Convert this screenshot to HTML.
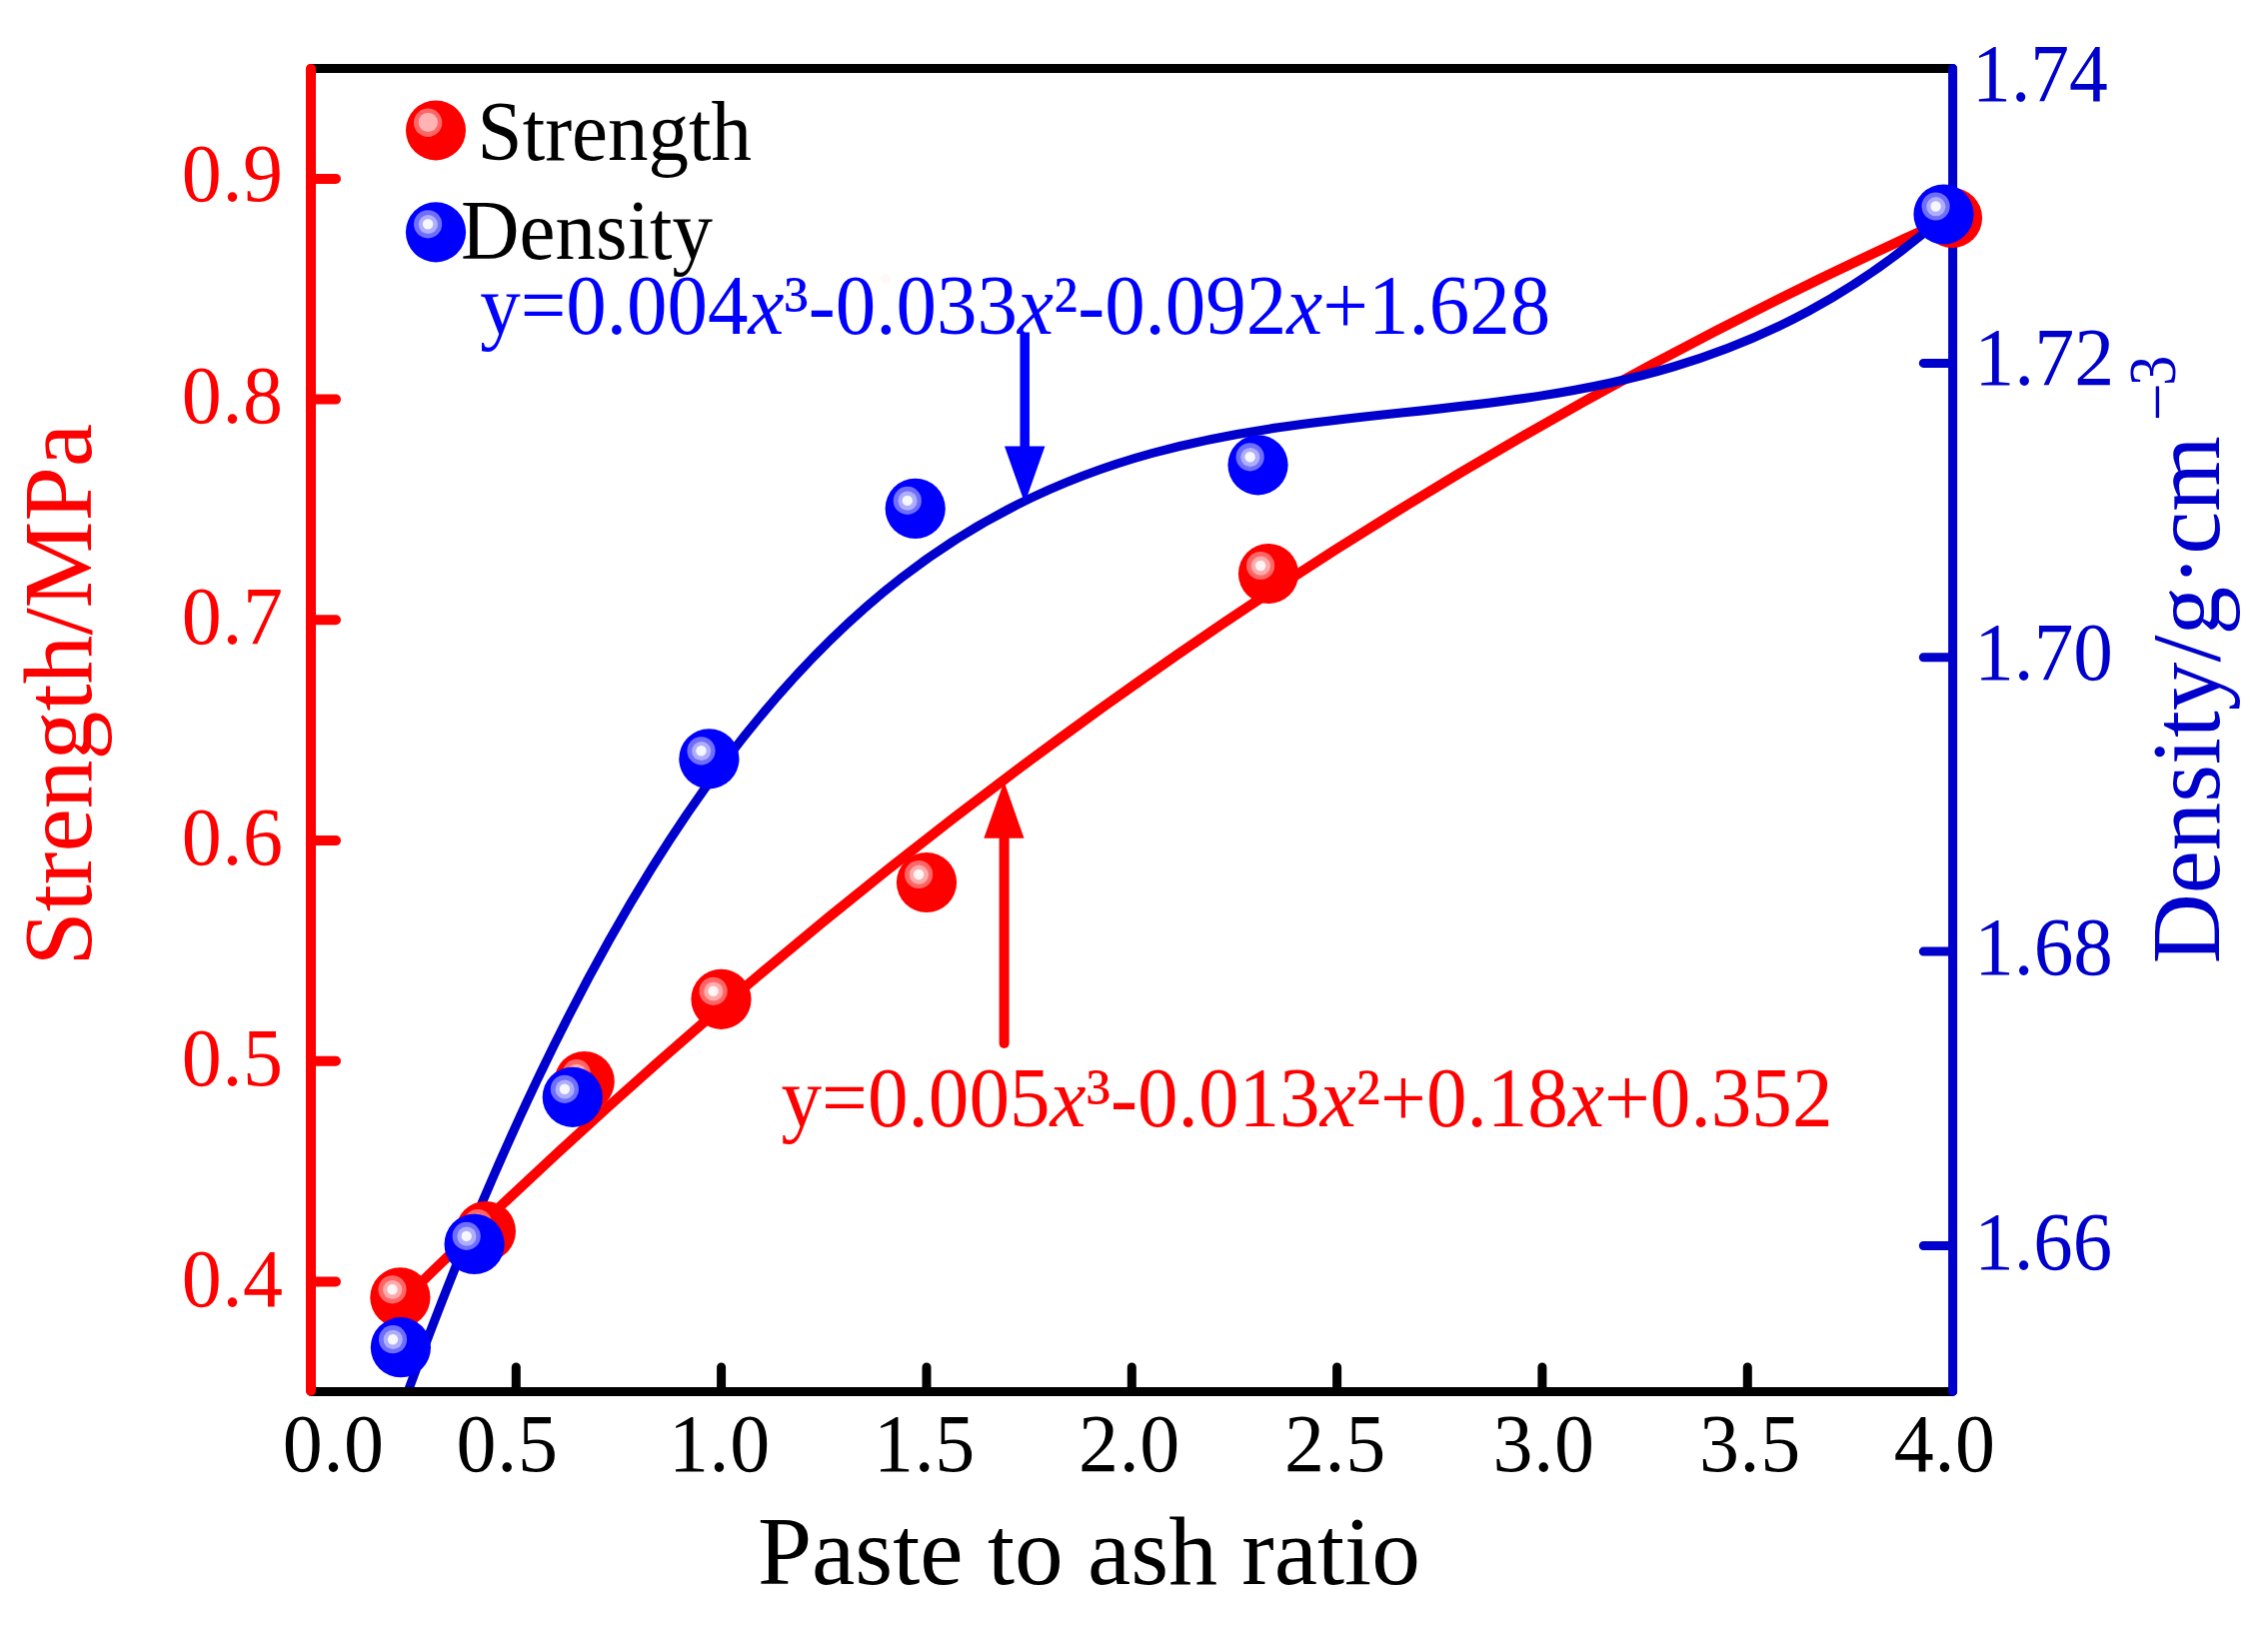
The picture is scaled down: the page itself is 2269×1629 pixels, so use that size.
<!DOCTYPE html>
<html lang="en"><head><meta charset="utf-8"><title>Strength and density vs paste to ash ratio</title>
<style>html,body{margin:0;padding:0;background:#fff}svg{display:block}text{font-family:"Liberation Serif","Times New Roman",Times,serif}.tk{font-size:80px}.eq{font-size:81px}.ti{font-size:97px}.it{font-style:italic}</style>
</head><body>
<svg width="2269" height="1629" viewBox="0 0 2269 1629">
<rect width="2269" height="1629" fill="#fff"/>
<defs>
<clipPath id="plot"><rect x="311.0" y="68.4" width="1642.6" height="1324.0"/></clipPath>
</defs>
<g clip-path="url(#plot)" fill="none" stroke-linecap="butt">
<path d="M400.40 1303.80 C917.93 793.42 1435.47 448.46 1953.00 217.43" stroke="#ff0000" stroke-width="10"/>
<path d="M400.90 1412.22 C915.43 -16.47 1429.97 668.92 1944.50 216.48" stroke="#0000cd" stroke-width="9"/>
</g>
<g fill="none" stroke-linecap="round">
<path d="M311.0 68.4H1953.6M311.0 1392.4H1953.6" stroke="#000" stroke-width="9"/>
<path d="M516.3 1392.4V1367.9M721.6 1392.4V1367.9M927.0 1392.4V1367.9M1132.3 1392.4V1367.9M1337.6 1392.4V1367.9M1542.9 1392.4V1367.9M1748.3 1392.4V1367.9" stroke="#000" stroke-width="9"/>
<path d="M1953.6 68.4V1392.4M1953.6 363.4H1924.3M1953.6 657.8H1924.3M1953.6 952.1H1924.3M1953.6 1246.5H1924.3" stroke="#0000cd" stroke-width="9"/>
<path d="M311.0 68.9V1391.8000000000002M311.0 178.9H336.0M311.0 399.6H336.0M311.0 620.3H336.0M311.0 841.1H336.0M311.0 1061.8H336.0M311.0 1282.5H336.0" stroke="#ff0000" stroke-width="10"/>
</g>
<g>
<g transform="translate(400.4 1298.3)"><circle r="30.1" fill="#ff0000"/><circle cx="-7.9" cy="-8" r="14.1" fill="#ff6666"/><circle cx="-7.7" cy="-7.8" r="9.6" fill="#ffabab"/><circle cx="-7.9" cy="-8" r="5.2" fill="#fff5f5"/></g>
<g transform="translate(485.9 1232.0)"><circle r="30.1" fill="#ff0000"/><circle cx="-7.9" cy="-8" r="14.1" fill="#ff6666"/><circle cx="-7.7" cy="-7.8" r="9.6" fill="#ffabab"/><circle cx="-7.9" cy="-8" r="5.2" fill="#fff5f5"/></g>
<g transform="translate(584.7 1082.1)"><circle r="30.1" fill="#ff0000"/><circle cx="-7.9" cy="-8" r="14.1" fill="#ff6666"/><circle cx="-7.7" cy="-7.8" r="9.6" fill="#ffabab"/><circle cx="-7.9" cy="-8" r="5.2" fill="#fff5f5"/></g>
<g transform="translate(721.5 999.8)"><circle r="30.1" fill="#ff0000"/><circle cx="-7.9" cy="-8" r="14.1" fill="#ff6666"/><circle cx="-7.7" cy="-7.8" r="9.6" fill="#ffabab"/><circle cx="-7.9" cy="-8" r="5.2" fill="#fff5f5"/></g>
<g transform="translate(927.0 883.0)"><circle r="30.1" fill="#ff0000"/><circle cx="-7.9" cy="-8" r="14.1" fill="#ff6666"/><circle cx="-7.7" cy="-7.8" r="9.6" fill="#ffabab"/><circle cx="-7.9" cy="-8" r="5.2" fill="#fff5f5"/></g>
<g transform="translate(1269.0 574.0)"><circle r="30.1" fill="#ff0000"/><circle cx="-7.9" cy="-8" r="14.1" fill="#ff6666"/><circle cx="-7.7" cy="-7.8" r="9.6" fill="#ffabab"/><circle cx="-7.9" cy="-8" r="5.2" fill="#fff5f5"/></g>
<g transform="translate(1953.0 218.0)"><circle r="30.1" fill="#ff0000"/><circle cx="-7.9" cy="-8" r="14.1" fill="#ff6666"/><circle cx="-7.7" cy="-7.8" r="9.6" fill="#ffabab"/><circle cx="-7.9" cy="-8" r="5.2" fill="#fff5f5"/></g>
<g transform="translate(400.9 1348.2)"><circle r="30.1" fill="#0000ff"/><circle cx="-7.9" cy="-8" r="14.1" fill="#6e6eff"/><circle cx="-7.7" cy="-7.8" r="9.6" fill="#aeaeff"/><circle cx="-7.9" cy="-8" r="5.2" fill="#f7f7ff"/></g>
<g transform="translate(474.6 1244.9)"><circle r="30.1" fill="#0000ff"/><circle cx="-7.9" cy="-8" r="14.1" fill="#6e6eff"/><circle cx="-7.7" cy="-7.8" r="9.6" fill="#aeaeff"/><circle cx="-7.9" cy="-8" r="5.2" fill="#f7f7ff"/></g>
<g transform="translate(572.8 1097.8)"><circle r="30.1" fill="#0000ff"/><circle cx="-7.9" cy="-8" r="14.1" fill="#6e6eff"/><circle cx="-7.7" cy="-7.8" r="9.6" fill="#aeaeff"/><circle cx="-7.9" cy="-8" r="5.2" fill="#f7f7ff"/></g>
<g transform="translate(709.4 759.3)"><circle r="30.1" fill="#0000ff"/><circle cx="-7.9" cy="-8" r="14.1" fill="#6e6eff"/><circle cx="-7.7" cy="-7.8" r="9.6" fill="#aeaeff"/><circle cx="-7.9" cy="-8" r="5.2" fill="#f7f7ff"/></g>
<g transform="translate(915.7 508.9)"><circle r="30.1" fill="#0000ff"/><circle cx="-7.9" cy="-8" r="14.1" fill="#6e6eff"/><circle cx="-7.7" cy="-7.8" r="9.6" fill="#aeaeff"/><circle cx="-7.9" cy="-8" r="5.2" fill="#f7f7ff"/></g>
<g transform="translate(1258.5 465.3)"><circle r="30.1" fill="#0000ff"/><circle cx="-7.9" cy="-8" r="14.1" fill="#6e6eff"/><circle cx="-7.7" cy="-7.8" r="9.6" fill="#aeaeff"/><circle cx="-7.9" cy="-8" r="5.2" fill="#f7f7ff"/></g>
<g transform="translate(1944.5 214.5)"><circle r="30.1" fill="#0000ff"/><circle cx="-7.9" cy="-8" r="14.1" fill="#6e6eff"/><circle cx="-7.7" cy="-7.8" r="9.6" fill="#aeaeff"/><circle cx="-7.9" cy="-8" r="5.2" fill="#f7f7ff"/></g>
</g>
<g stroke-linecap="round">
<path d="M1025.2 332.5V450" stroke="#0000ff" stroke-width="9.5" fill="none" stroke-linecap="butt"/>
<path d="M1005 446.5H1045.4L1025.2 503.5Z" fill="#0000ff"/>
<path d="M1004.6 1044V835" stroke="#ff0000" stroke-width="10" fill="none"/>
<path d="M984.3 838.8H1024.5L1004.5 782Z" fill="#ff0000"/>
</g>
<g transform="translate(436 130.4)"><circle r="30" fill="#ff0000"/><circle cx="-7.9" cy="-7.6" r="14.2" fill="#ff6666"/><circle cx="-7.7" cy="-8" r="9.6" fill="#ffb3b3"/></g>
<g transform="translate(436 232.3)"><circle r="30.1" fill="#0000ff"/><circle cx="-7.9" cy="-8" r="14.1" fill="#6e6eff"/><circle cx="-7.7" cy="-7.8" r="9.6" fill="#aeaeff"/><circle cx="-7.9" cy="-8" r="5.2" fill="#f7f7ff"/></g>
<circle cx="886" cy="279" r="4.9" fill="#fff8f8"/>
<text class="eq" transform="translate(477.6 159.6) scale(1 1.035)" fill="#000">Strength</text>
<text class="eq" transform="translate(461.0 258.7) scale(1 1.035)" fill="#000">Density</text>
<text class="eq" transform="translate(480.2 334.4) scale(1 1.035)" fill="#0000ff">y=0.004<tspan class="it">x</tspan>³-0.033<tspan class="it">x</tspan>²-0.092<tspan class="it">x</tspan>+1.628</text>
<text class="eq" transform="translate(781.5 1127.0) scale(1 1.035)" fill="#ff0000" style="font-size:81.2px">y=0.005<tspan class="it">x</tspan>³-0.013<tspan class="it">x</tspan>²+0.18<tspan class="it">x</tspan>+0.352</text>
<text class="tk" transform="translate(282.8 1472.3) scale(1 1.035)" fill="#000" textLength="101.3" lengthAdjust="spacing">0.0</text>
<text class="tk" transform="translate(456.6 1472.3) scale(1 1.035)" fill="#000" textLength="101.3" lengthAdjust="spacing">0.5</text>
<text class="tk" transform="translate(668.9 1472.3) scale(1 1.035)" fill="#000" textLength="101.3" lengthAdjust="spacing">1.0</text>
<text class="tk" transform="translate(874.0 1472.3) scale(1 1.035)" fill="#000" textLength="101.3" lengthAdjust="spacing">1.5</text>
<text class="tk" transform="translate(1079.0 1472.3) scale(1 1.035)" fill="#000" textLength="101.3" lengthAdjust="spacing">2.0</text>
<text class="tk" transform="translate(1284.9 1472.3) scale(1 1.035)" fill="#000" textLength="101.3" lengthAdjust="spacing">2.5</text>
<text class="tk" transform="translate(1493.6 1472.3) scale(1 1.035)" fill="#000" textLength="101.3" lengthAdjust="spacing">3.0</text>
<text class="tk" transform="translate(1699.9 1472.3) scale(1 1.035)" fill="#000" textLength="101.3" lengthAdjust="spacing">3.5</text>
<text class="tk" transform="translate(1894.8 1472.3) scale(1 1.035)" fill="#000" textLength="101.3" lengthAdjust="spacing">4.0</text>
<text class="tk" transform="translate(181.8 201.3) scale(1 1.035)" fill="#ff0000" textLength="101.3" lengthAdjust="spacing">0.9</text>
<text class="tk" transform="translate(181.8 422.5) scale(1 1.035)" fill="#ff0000" textLength="101.3" lengthAdjust="spacing">0.8</text>
<text class="tk" transform="translate(181.8 643.7) scale(1 1.035)" fill="#ff0000" textLength="101.3" lengthAdjust="spacing">0.7</text>
<text class="tk" transform="translate(181.8 864.9) scale(1 1.035)" fill="#ff0000" textLength="101.3" lengthAdjust="spacing">0.6</text>
<text class="tk" transform="translate(181.8 1086.1) scale(1 1.035)" fill="#ff0000" textLength="101.3" lengthAdjust="spacing">0.5</text>
<text class="tk" transform="translate(181.8 1307.3) scale(1 1.035)" fill="#ff0000" textLength="101.3" lengthAdjust="spacing">0.4</text>
<text class="tk" transform="translate(1973.1 101.0) scale(1 1.035)" fill="#0000cd" textLength="135.8" lengthAdjust="spacingAndGlyphs">1.74</text>
<text class="tk" transform="translate(1975.2 385.0) scale(1 1.035)" fill="#0000cd" textLength="140.0" lengthAdjust="spacingAndGlyphs">1.72</text>
<text class="tk" transform="translate(1975.2 680.0) scale(1 1.035)" fill="#0000cd" textLength="138.7" lengthAdjust="spacingAndGlyphs">1.70</text>
<text class="tk" transform="translate(1975.2 975.0) scale(1 1.035)" fill="#0000cd" textLength="138.7" lengthAdjust="spacingAndGlyphs">1.68</text>
<text class="tk" transform="translate(1975.2 1270.0) scale(1 1.035)" fill="#0000cd" textLength="138.0" lengthAdjust="spacingAndGlyphs">1.66</text>
<text class="ti" x="757.9" y="1584.5" fill="#000" style="font-size:97.45px">Paste to ash ratio</text>
<text class="ti" transform="translate(91 966.6) rotate(-90)" fill="#ff0000" style="font-size:97.7px">Strength/MPa</text>
<text class="ti" transform="translate(2220 964.3) rotate(-90)" fill="#0000cd">Density/g·cm</text>
<text transform="translate(2180.7 421.4) rotate(-90)" fill="#0000cd" style="font-size:68px">−</text>
<text transform="translate(2176.4 386) rotate(-90) scale(0.9 1)" fill="#0000cd" style="font-size:67.3px">3</text>
</svg>
</body></html>
